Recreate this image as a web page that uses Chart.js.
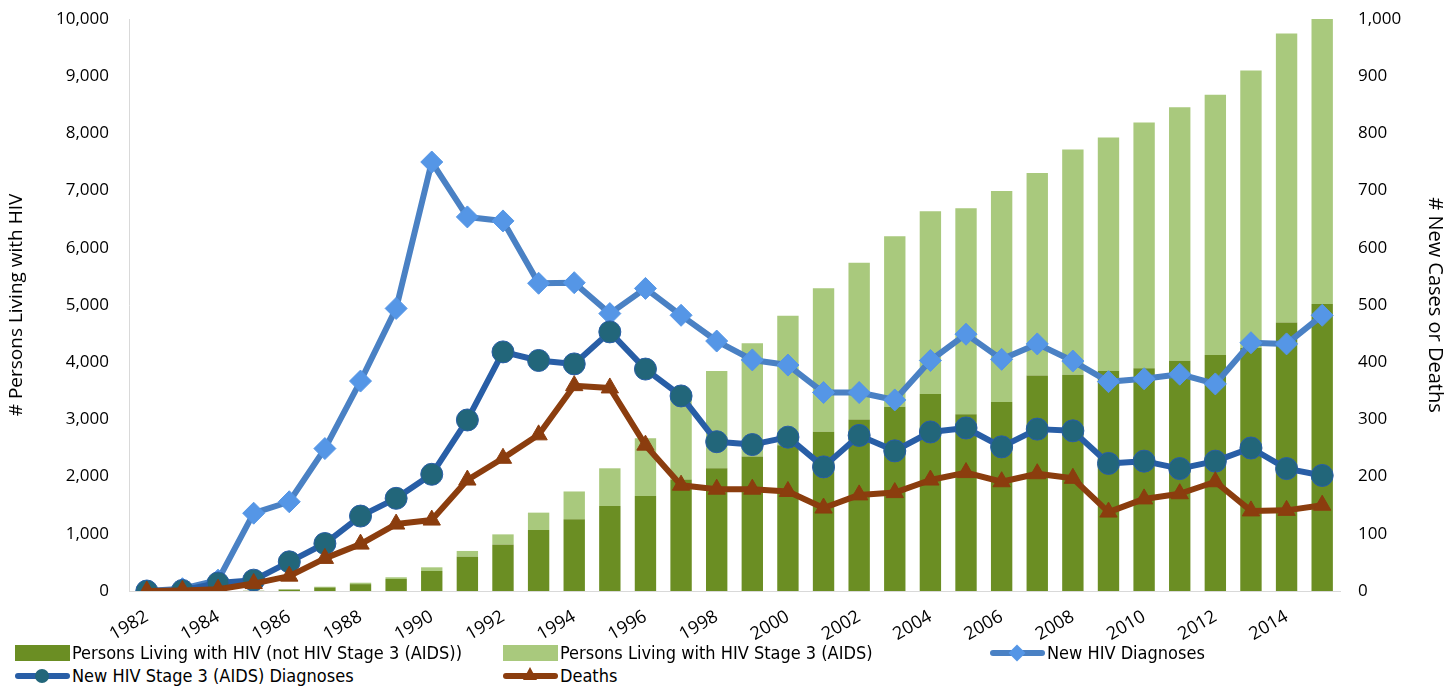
<!DOCTYPE html>
<html>
<head>
<meta charset="utf-8">
<script src="https://cdn.jsdelivr.net/npm/chart.js@4"></script>
<style>
  html, body { margin: 0; padding: 0; background: #fff; }
  #wrap { position: absolute; left: 0; top: 0; width: 1447px; height: 648px; }
  .leg { position: absolute; font-family: "Liberation Sans Narrow", "DejaVu Sans Condensed", sans-serif; font-size: 18px; color: #000; white-space: nowrap; line-height: 20px; }
  .sym { position: absolute; }
</style>
</head>
<body>
<div id="wrap"><canvas id="c"></canvas></div>
<div id="legend"></div>
<script>
const years = [1982,1983,1984,1985,1986,1987,1988,1989,1990,1991,1992,1993,1994,1995,1996,1997,1998,1999,2000,2001,2002,2003,2004,2005,2006,2007,2008,2009,2010,2011,2012,2013,2014,2015];

// Persons living with HIV, total (read from bar tops) and not-AIDS part (dark bar tops)
const livingTotal = [0,0,0,5,30,75,145,240,414,700,990,1370,1740,2145,2670,3400,3846,4330,4813,5292,5740,6200,6640,6690,6993,7308,7720,7930,8190,8455,8677,9098,9747,10010];
const livingNotAids = [0,0,0,4,25,62,120,210,350,600,815,1066,1255,1486,1660,1950,2145,2350,2550,2785,3000,3222,3444,3089,3304,3767,3780,3850,3895,4024,4124,4250,4695,5017];
const livingAids = livingTotal.map((t, i) => t - livingNotAids[i]);

const newDiagnoses = [0,4,19,136,156,249,367,494,750,654,647,538,539,485,529,482,437,404,395,347,347,334,403,449,405,432,402,366,371,379,362,434,432,482];
const newAidsDiagnoses = [0,1,14,19,51,83,131,162,204,299,418,403,397,453,388,341,261,256,269,217,272,245,278,285,252,283,280,223,227,214,227,250,214,202];
const deaths = [0,1,3,13,26,57,82,117,124,194,232,273,359,355,255,185,178,178,174,145,168,172,194,207,191,205,197,138,161,170,191,140,141,150];

const leftTicks = [0,1000,2000,3000,4000,5000,6000,7000,8000,9000,10000];
const rightTicks = [0,100,200,300,400,500,600,700,800,900,1000];

const C = {
  darkGreen: '#6b8e23',
  lightGreen: '#a9c97d',
  diagLine: '#4a81c4',
  diagMarker: '#5596e6',
  aidsLine: '#285ea6',
  aidsMarker: '#22667a',
  deaths: '#8b3d0e'
};

const FONT = '"Open Sans", sans-serif';
const fmt = v => v.toLocaleString('en-US');

new Chart(document.getElementById('c'), {
  type: 'bar',
  data: {
    labels: years.map(String),
    datasets: [
      { type: 'line', label: 'Deaths', data: deaths, yAxisID: 'y1', order: 1,
        borderColor: C.deaths, backgroundColor: C.deaths, borderWidth: 6,
        pointStyle: 'triangle', pointRadius: 10, pointBorderWidth: 1, pointBorderColor: C.deaths,
        borderJoinStyle: 'round', borderCapStyle: 'round', tension: 0 },
      { type: 'line', label: 'New HIV Stage 3 (AIDS) Diagnoses', data: newAidsDiagnoses, yAxisID: 'y1', order: 2,
        borderColor: C.aidsLine, backgroundColor: C.aidsMarker, borderWidth: 6,
        pointStyle: 'circle', pointRadius: 11, pointBorderWidth: 1, pointBorderColor: C.aidsLine,
        borderJoinStyle: 'round', borderCapStyle: 'round', tension: 0 },
      { type: 'line', label: 'New HIV Diagnoses', data: newDiagnoses, yAxisID: 'y1', order: 3,
        borderColor: C.diagLine, backgroundColor: C.diagMarker, borderWidth: 6,
        pointStyle: 'rectRot', pointRadius: 11, pointBorderWidth: 1, pointBorderColor: C.diagMarker,
        borderJoinStyle: 'round', borderCapStyle: 'round', tension: 0 },
      { type: 'bar', label: 'Persons Living with HIV (not HIV Stage 3 (AIDS))', data: livingNotAids, yAxisID: 'y', order: 10,
        backgroundColor: C.darkGreen, barPercentage: 0.6, categoryPercentage: 1, stack: 's' },
      { type: 'bar', label: 'Persons Living with HIV Stage 3 (AIDS)', data: livingAids, yAxisID: 'y', order: 10,
        backgroundColor: C.lightGreen, barPercentage: 0.6, categoryPercentage: 1, stack: 's' }
    ]
  },
  options: {
    responsive: true,
    maintainAspectRatio: false,
    animation: false,
    layout: { padding: { top: 19, left: 0, right: 0, bottom: 0 } },
    plugins: { legend: { display: false }, tooltip: { enabled: false } },
    scales: {
      x: {
        stacked: true,
        grid: { display: false, drawTicks: false },
        border: { display: true, color: '#d9d9d9', width: 1 },
        ticks: {
          autoSkip: false, minRotation: 30, maxRotation: 30, padding: 15,
          color: '#000', font: { family: FONT, size: 18 },
          callback: function(v, i) { return i % 2 === 0 ? years[i] : ''; }
        },
        afterFit: s => { s.height = 57; s.paddingLeft = 0; s.paddingRight = 0; }
      },
      y: {
        position: 'left', stacked: true, min: 0, max: 10000,
        afterBuildTicks: s => { s.ticks = leftTicks.map(v => ({ value: v })); },
        grid: { display: false, drawTicks: false },
        border: { display: true, color: '#d9d9d9', width: 1 },
        ticks: { color: '#000', font: { family: FONT, size: 17 }, padding: 20, callback: v => fmt(v) },
        title: { display: true, text: '# Persons Living with HIV', color: '#000', font: { family: FONT, size: 19 }, padding: { top: 5, bottom: 0 } },
        afterFit: s => { s.width = 129; s.paddingTop = 0; s.paddingBottom = 0; }
      },
      y1: {
        position: 'right', stacked: false, min: 0, max: 1000,
        afterBuildTicks: s => { s.ticks = rightTicks.map(v => ({ value: v })); },
        grid: { display: false, drawTicks: false },
        border: { display: false },
        ticks: { color: '#000', font: { family: FONT, size: 17 }, padding: 18, callback: v => fmt(v) },
        title: { display: true, text: '# New Cases or Deaths', color: '#000', font: { family: FONT, size: 20 }, padding: { top: 0, bottom: 2 } },
        afterFit: s => { s.width = 107; s.paddingTop = 0; s.paddingBottom = 0; }
      }
    }
  }
});

// HTML legend
const legendItems = [
  { kind: 'box', color: C.darkGreen, x: 15, y: 653, text: 'Persons Living with HIV (not HIV Stage 3 (AIDS))' },
  { kind: 'box', color: C.lightGreen, x: 503, y: 653, text: 'Persons Living with HIV Stage 3 (AIDS)' },
  { kind: 'line', line: C.diagLine, marker: C.diagMarker, shape: 'diamond', x: 990, y: 653, text: 'New HIV Diagnoses' },
  { kind: 'line', line: C.aidsLine, marker: C.aidsMarker, shape: 'circle', x: 15, y: 676, text: 'New HIV Stage 3 (AIDS) Diagnoses' },
  { kind: 'line', line: C.deaths, marker: C.deaths, shape: 'triangle', x: 503, y: 676, text: 'Deaths' }
];
const lg = document.getElementById('legend');
legendItems.forEach(it => {
  if (it.kind === 'box') {
    const b = document.createElement('div');
    b.className = 'sym';
    Object.assign(b.style, { left: it.x + 'px', top: (it.y - 8) + 'px', width: '55px', height: '16px', background: it.color });
    lg.appendChild(b);
  } else {
    const l = document.createElement('div');
    l.className = 'sym';
    Object.assign(l.style, { left: it.x + 'px', top: (it.y - 3) + 'px', width: '55px', height: '6px', background: it.line, borderRadius: '3px' });
    lg.appendChild(l);
    const m = document.createElement('div');
    m.className = 'sym';
    const cx = it.x + 27;
    if (it.shape === 'diamond') {
      Object.assign(m.style, { left: (cx - 6) + 'px', top: (it.y - 6) + 'px', width: '12px', height: '12px', background: it.marker, transform: 'rotate(45deg)' });
    } else if (it.shape === 'circle') {
      Object.assign(m.style, { left: (cx - 7) + 'px', top: (it.y - 7) + 'px', width: '14px', height: '14px', background: it.marker, borderRadius: '50%' });
    } else {
      Object.assign(m.style, { left: (cx - 7) + 'px', top: (it.y - 9) + 'px', width: '0', height: '0',
        borderLeft: '7px solid transparent', borderRight: '7px solid transparent', borderBottom: '13px solid ' + it.marker });
    }
    lg.appendChild(m);
  }
  const t = document.createElement('div');
  t.className = 'leg';
  t.style.left = (it.x + 57) + 'px';
  t.style.top = (it.y - 10) + 'px';
  t.textContent = it.text;
  lg.appendChild(t);
});
</script>
</body>
</html>
